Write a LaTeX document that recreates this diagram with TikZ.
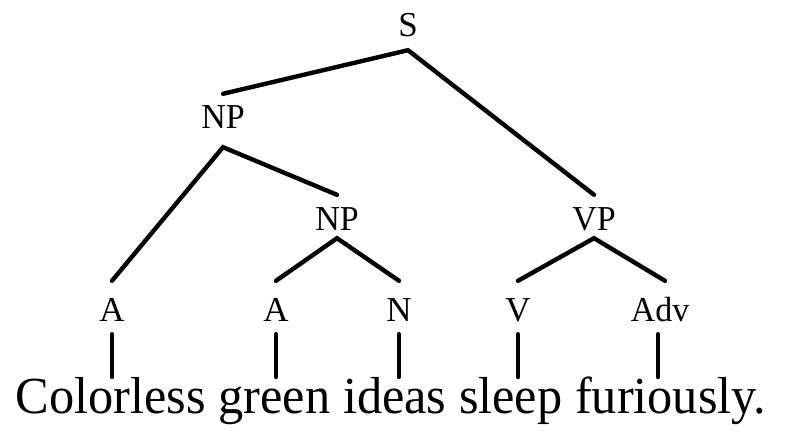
\documentclass[tikz,border=0pt]{standalone}
\usepackage{fontspec}
\setmainfont{Liberation Serif}
\begin{document}
\begin{tikzpicture}[x=1pt,y=-1pt,
  lbl/.style={font=\fontsize{35}{35}\selectfont, inner sep=0pt, text height=23pt, text depth=0pt, anchor=base},
  branch/.style={line width=4.4pt, line cap=round}]
\useasboundingbox (0,0) rectangle (800,435);
% labels
\node[lbl] (S)   at (408,37)  {S};
\node[lbl] (NP1) at (223,129) {\scalebox{0.97}[1]{NP}};
\node[lbl] (NP2) at (337,231) {\scalebox{0.97}[1]{NP}};
\node[lbl] (VP)  at (594,231) {\scalebox{0.97}[1]{VP}};
\node[lbl] (A1)  at (112,322) {A};
\node[lbl] (A2)  at (276,322) {A};
\node[lbl] (N)   at (399,322) {N};
\node[lbl] (V)   at (518,322) {V};
\node[lbl] (Adv) at (660,322) {\scalebox{0.97}[1]{Adv}};
\node[font=\fontsize{52}{52}\selectfont, inner sep=0pt, anchor=base] (sent) at (391,413) {\scalebox{0.968}[1]{Colorless green ideas sleep furiously.}};
% word attachment points
\coordinate (w1) at (112,377);
\coordinate (w2) at (276,377);
\coordinate (w3) at (399,377);
\coordinate (w4) at (518,377);
\coordinate (w5) at (658,377);
% branches
\draw[branch] ([yshift=12pt]NP1.north) -- ([yshift=-13pt]S.south) -- ([yshift=13pt]VP.north);
\draw[branch] ([yshift=18pt]A1.north) -- ([yshift=-18pt]NP1.south) -- ([yshift=13pt]NP2.north);
\draw[branch] ([yshift=18pt]A2.north) -- ([yshift=-7pt]NP2.south) -- ([yshift=18pt]N.north);
\draw[branch] ([yshift=18pt]V.north) -- ([yshift=-7pt]VP.south) -- ([xshift=5pt,yshift=18pt]Adv.north);
\draw[branch] ([yshift=-12pt]A1.south) -- (w1);
\draw[branch] ([yshift=-12pt]A2.south) -- (w2);
\draw[branch] ([yshift=-12pt]N.south) -- (w3);
\draw[branch] ([yshift=-12pt]V.south) -- (w4);
\draw[branch] ([xshift=-2pt,yshift=-12pt]Adv.south) -- (w5);
\end{tikzpicture}
\end{document}
